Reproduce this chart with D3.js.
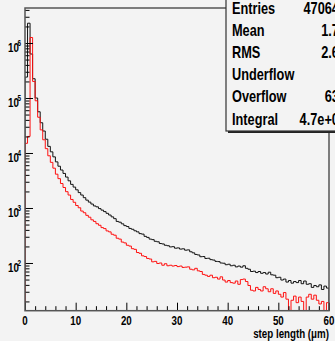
<!DOCTYPE html>
<html>
<head>
<meta charset="utf-8">
<script src="https://cdn.jsdelivr.net/npm/d3@7"></script>
<style>
  html, body { margin: 0; padding: 0; background: #f3f3f3; }
  svg { display: block; }
  text { font-family: "Liberation Sans", Arial, sans-serif; font-weight: bold; fill: #000; }
</style>
</head>
<body>
<div id="chart"></div>
<script>
// histogram range and binning (step length in um)
const xRange = [0, 60];
const binWidth = 0.5;

// black histogram (counts per 0.5 um bin)
const blackCounts = [
  240000, 2290000, 631000, 224000, 100000, 56200, 35500, 25100, 17800, 13200,
  10500, 8510, 6900, 5750, 4900, 4250, 3650, 3120, 2690, 2400,
  2140, 1905, 1720, 1540, 1390, 1280, 1180, 1090, 1050, 975,
  915, 860, 800, 745, 690, 640, 570, 552, 515, 478,
  460, 425, 410, 385, 368, 342, 335, 305, 292, 272,
  266, 248, 243, 226, 222, 210, 206, 196, 198, 186,
  188, 179, 181, 171, 173, 160, 153, 143, 140, 130,
  131, 121, 122, 115, 113, 107, 106, 100, 99, 93,
  95, 89, 91, 85, 88, 84, 89, 80, 77, 70,
  71, 67, 70, 65, 67, 63, 68, 61, 60, 54,
  55, 49, 51, 45, 48, 43, 46, 44, 48, 42,
  47, 41, 42, 36, 39, 37, 40, 33, 38, 35
];

// red histogram
const redCounts = [
  15000, 20000, 1260000, 200000, 89000, 44700, 26300, 17400, 12000, 8900,
  6760, 5300, 4120, 3420, 2790, 2360, 1980, 1720, 1430, 1270,
  1110, 1010, 880, 820, 735, 680, 610, 570, 518, 485,
  440, 422, 383, 368, 333, 320, 282, 272, 240, 232,
  210, 203, 182, 177, 155, 150, 135, 131, 121, 118,
  105, 107, 98, 100, 91, 97, 89, 91, 88, 90,
  86, 88, 83, 84, 85, 77, 75, 80, 72, 70,
  62, 60, 57, 60, 54, 55, 51, 56, 49, 45,
  48, 44, 43, 47, 41, 50, 51, 46, 39, 32,
  31, 36, 33, 31, 37, 34, 30, 34, 28, 31,
  27, 24, 29, 22, 0, 21, 25, 19, 24, 20,
  0, 24, 27, 22, 26, 21, 18, 20, 0, 19
];

// axis ticks
const xMajorTicks = [0, 10, 20, 30, 40, 50, 60];
const yDecades = [2, 3, 4, 5, 6];
const yDomain = [13.57, 4.33e6];

// stats box
const statLabels = ["Entries", "Mean", "RMS", "Underflow", "Overflow", "Integral"];
const statValues = ["470643", "1.75", "2.61", "0", "632", "4.7e+05"];

const xTitle = "step length (\u03bcm)";

const width = 335, height = 341;
const frame = { left: 25, right: 329, top: 8, bottom: 310.7 };
const squeeze = 0.75;

const svg = d3.select("#chart")
  .append("svg")
  .attr("width", width)
  .attr("height", height);

svg.append("rect")
  .attr("width", width).attr("height", height)
  .attr("fill", "#f3f3f3");

const x = d3.scaleLinear().domain(xRange).range([frame.left, frame.right]);
const y = d3.scaleLog().domain(yDomain).range([frame.bottom, frame.top]).clamp(true);

svg.append("clipPath").attr("id", "frameClip")
  .append("rect")
  .attr("x", frame.left).attr("y", frame.top)
  .attr("width", frame.right - frame.left)
  .attr("height", frame.bottom - frame.top);

// histograms as step lines
function stepPoints(counts) {
  const pts = [[xRange[0], yDomain[0]]];
  counts.forEach((c, i) => {
    const v = Math.max(c, yDomain[0]);
    pts.push([xRange[0] + i * binWidth, v]);
    pts.push([xRange[0] + (i + 1) * binWidth, v]);
  });
  pts.push([xRange[1], yDomain[0]]);
  return pts;
}

const line = d3.line()
  .x(d => x(d[0]))
  .y(d => y(d[1]));

const plot = svg.append("g").attr("clip-path", "url(#frameClip)");

plot.append("path")
  .attr("d", line(stepPoints(blackCounts)))
  .attr("fill", "none")
  .attr("stroke", "#111")
  .attr("stroke-width", 1);

plot.append("path")
  .attr("d", line(stepPoints(redCounts)))
  .attr("fill", "none")
  .attr("stroke", "#ff1010")
  .attr("stroke-width", 1);

// x axis ticks (pointing into the frame)
const xMinor = d3.range(xRange[0], xRange[1] + 0.001, 2).filter(v => v % 10 !== 0);
const xAxisMajor = d3.axisBottom(x).tickValues(xMajorTicks).tickSize(-8).tickFormat("");
const xAxisMinor = d3.axisBottom(x).tickValues(xMinor).tickSize(-4.5).tickFormat("");
[xAxisMajor, xAxisMinor].forEach(ax => {
  const g = svg.append("g").attr("transform", `translate(0,${frame.bottom})`).call(ax);
  g.select(".domain").remove();
  g.selectAll("line").attr("stroke", "#000");
});

svg.selectAll(".xlabel")
  .data(xMajorTicks)
  .join("text")
  .attr("class", "xlabel")
  .attr("transform", d => `translate(${x(d)},324.5) scale(${squeeze},1)`)
  .attr("text-anchor", "middle")
  .style("font-size", "13px")
  .text(d => d);

// y axis ticks (log)
const yMinor = [];
for (let e = 1; e <= 6; e++) {
  for (let m = 2; m <= 9; m++) {
    const v = m * Math.pow(10, e);
    if (v >= yDomain[0] && v <= yDomain[1]) yMinor.push(v);
  }
}
const yAxisMajor = d3.axisLeft(y).tickValues(yDecades.map(e => Math.pow(10, e))).tickSize(-8).tickFormat("");
const yAxisMinor = d3.axisLeft(y).tickValues(yMinor).tickSize(-4.5).tickFormat("");
[yAxisMajor, yAxisMinor].forEach(ax => {
  const g = svg.append("g").attr("transform", `translate(${frame.left},0)`).call(ax);
  g.select(".domain").remove();
  g.selectAll("line").attr("stroke", "#000");
});

const ylab = svg.selectAll(".ylabel")
  .data(yDecades)
  .join("g")
  .attr("class", "ylabel")
  .attr("transform", d => `translate(8,${y(Math.pow(10, d)) + 9})`);
ylab.append("text")
  .attr("transform", `scale(${squeeze},1)`)
  .style("font-size", "13px")
  .text("10");
ylab.append("text")
  .attr("transform", `translate(9.6,-6) scale(${squeeze},1)`)
  .style("font-size", "8.5px")
  .text(d => d);

// frame
svg.append("rect")
  .attr("x", frame.left).attr("y", frame.top)
  .attr("width", frame.right - frame.left)
  .attr("height", frame.bottom - frame.top)
  .attr("fill", "none")
  .attr("stroke", "#555")
  .attr("stroke-width", 1.5);

// x title
svg.append("text")
  .attr("transform", `translate(${frame.right},337.5) scale(${squeeze},1)`)
  .attr("text-anchor", "end")
  .style("font-size", "13px")
  .text(xTitle);

// stats box
const box = { left: 226, top: -3, right: 360, bottom: 131 };
svg.append("rect")
  .attr("x", box.left + 2).attr("y", box.top + 2)
  .attr("width", box.right - box.left).attr("height", box.bottom - box.top)
  .attr("fill", "#222");
svg.append("rect")
  .attr("x", box.left).attr("y", box.top)
  .attr("width", box.right - box.left).attr("height", box.bottom - box.top)
  .attr("fill", "#f3f3f3")
  .attr("stroke", "#333")
  .attr("stroke-width", 1.2);

const rowY = i => 14 + i * 22.1;
svg.selectAll(".statlabel")
  .data(statLabels)
  .join("text")
  .attr("class", "statlabel")
  .attr("transform", (d, i) => `translate(232,${rowY(i)}) scale(${squeeze},1)`)
  .style("font-size", "17px")
  .text(d => d);

svg.selectAll(".statvalue")
  .data(statValues)
  .join("text")
  .attr("class", "statvalue")
  .attr("transform", (d, i) => `translate(346,${rowY(i)}) scale(${squeeze},1)`)
  .attr("text-anchor", "end")
  .style("font-size", "17px")
  .text(d => d);
</script>
</body>
</html>
